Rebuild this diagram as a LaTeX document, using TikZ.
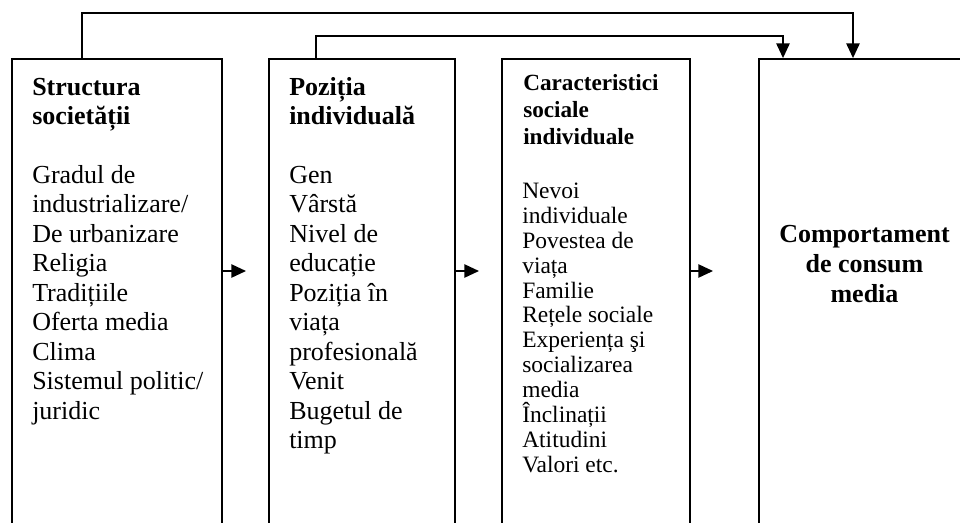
\documentclass[tikz,border=0pt]{standalone}
\usepackage{fontspec}
\setmainfont{Liberation Serif}
\usetikzlibrary{arrows.meta,fit}
\begin{document}
\begin{tikzpicture}[x=0.75pt,y=-0.75pt,
  box/.style={draw=black,line width=1.4pt,inner sep=0pt},
  conn/.style={draw=black,line width=1.1pt},
  arr/.style={conn,-{Triangle[length=11pt,width=10pt]}},
  headtxt/.style={anchor=north west,inner sep=0pt,align=left,
    font={\fontsize{19.5pt}{22.1pt}\selectfont\bfseries}},
  bodytxt/.style={anchor=north west,inner sep=0pt,align=left,
    font={\fontsize{19.5pt}{22.1pt}\selectfont}},
  headsmall/.style={anchor=north west,inner sep=0pt,align=left,
    font={\fontsize{17.4pt}{20.25pt}\selectfont\bfseries}},
  bodysmall/.style={anchor=north west,inner sep=0pt,align=left,
    font={\fontsize{17.6pt}{18.7pt}\selectfont}},
  endtxt/.style={anchor=north,inner sep=0pt,align=center,
    font={\fontsize{19.5pt}{22.5pt}\selectfont\bfseries}}]
\useasboundingbox (0,0) rectangle (960,522);
\clip (0,0) rectangle (960,522);
% boxes
\node[box,fit={(12,59) (222,545)}] (b1) {};
\node[box,fit={(269,59) (455,545)}] (b2) {};
\node[box,fit={(502,59) (690,545)}] (b3) {};
\node[box,fit={(759,59) (1000,545)}] (b4) {};
% texts
\node[headtxt] (h1) at (32,74.4) {\strut Structura\\societății};
\node[bodytxt] (t1) at (32,162.4) {\strut Gradul de\\industrializare/\\De urbanizare\\Religia\\Tradițiile\\Oferta media\\Clima\\Sistemul politic/\\juridic};
\node[headtxt] (h2) at (289,74.4) {\strut Poziția\\individuală};
\node[bodytxt] (t2) at (289,162.4) {\strut Gen\\Vârstă\\Nivel de\\educație\\Poziția în\\viața\\profesională\\Venit\\Bugetul de\\timp};
\node[headsmall] (h3) at (523,71.8) {\strut Caracteristici\\sociale\\individuale};
\node[bodysmall] (t3) at (522,180.6) {\strut Nevoi\\individuale\\Povestea de\\viața\\Familie\\Rețele sociale\\Experiența şi\\socializarea\\media\\Înclinații\\Atitudini\\Valori etc.};
\node[endtxt] (h4) at (864.5,221) {\strut Comportament\\de consum\\media};
% connector points
\coordinate (p1) at (82,13);
\coordinate (q1) at (853,13);
\coordinate (p2) at (316,36);
\coordinate (q2) at (783,36);
\coordinate (m1) at (246,271);
\coordinate (m2) at (479,271);
\coordinate (m3) at (713,271);
% top connectors
\draw[arr] (b1.north -| p1) -- (p1) -- (q1) -- (b4.north -| q1);
\draw[arr] (b2.north -| p2) -- (p2) -- (q2) -- (b4.north -| q2);
% side arrows
\draw[arr] (b1.east |- m1) -- (m1);
\draw[arr] (b2.east |- m2) -- (m2);
\draw[arr] (b3.east |- m3) -- (m3);
\end{tikzpicture}
\end{document}
